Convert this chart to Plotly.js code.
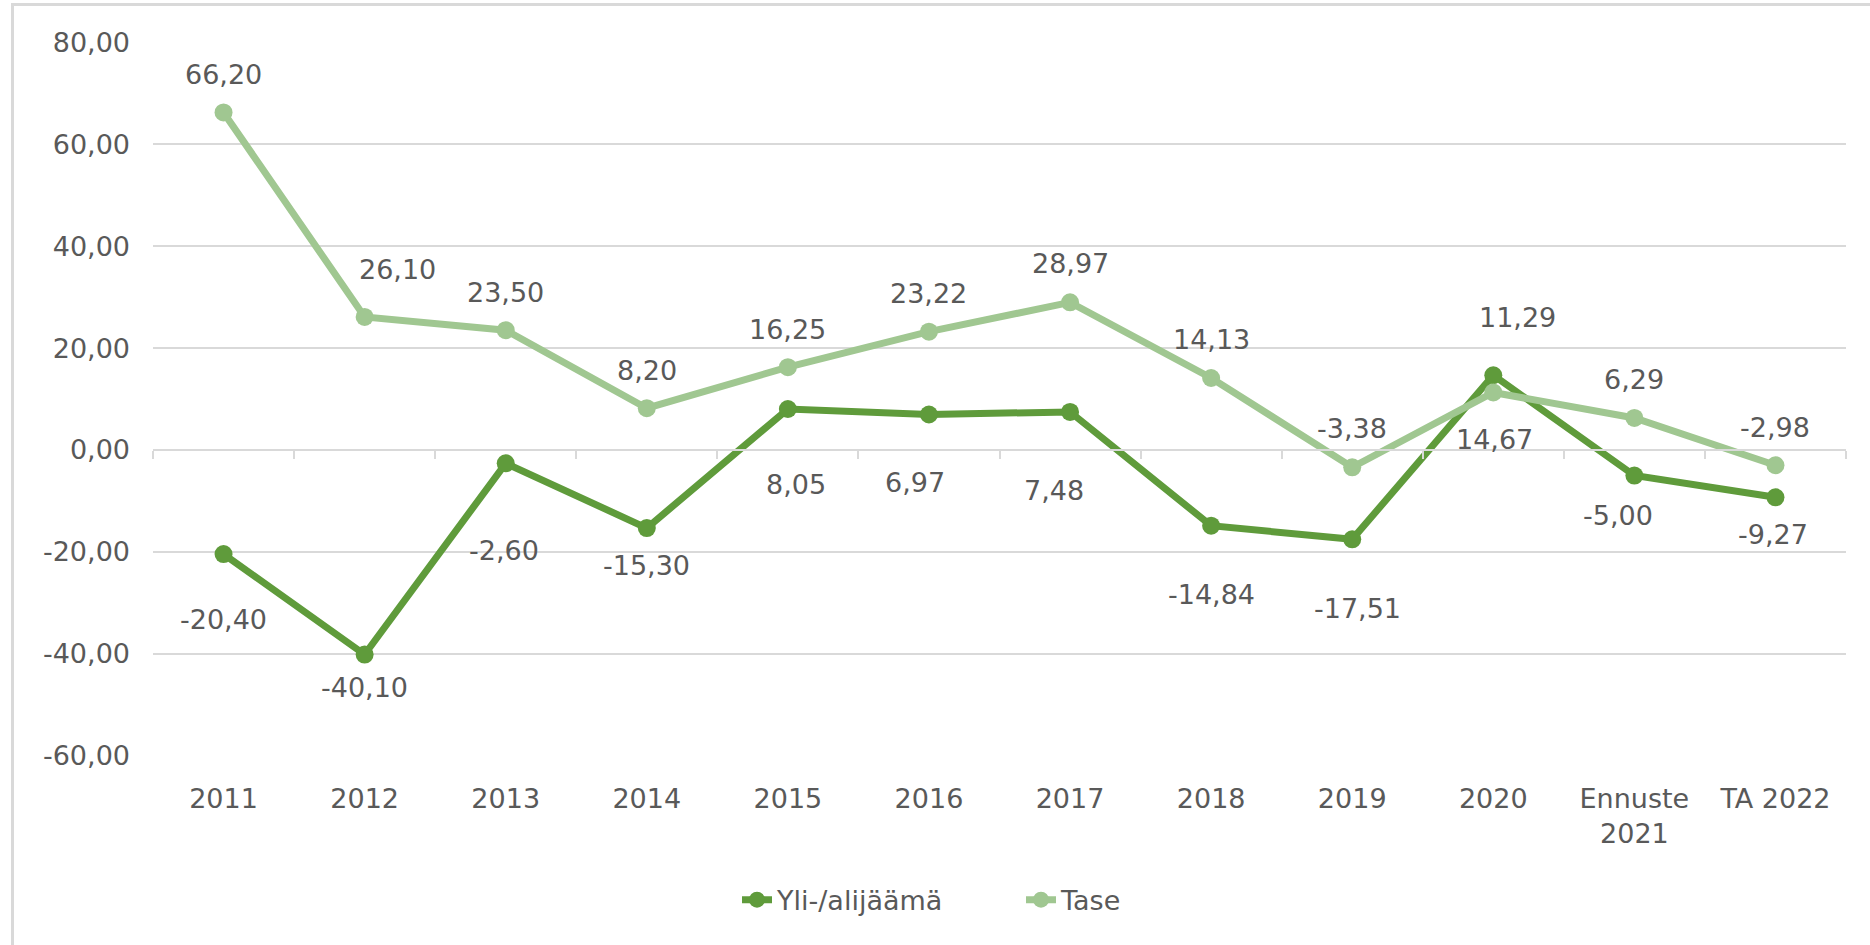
<!DOCTYPE html>
<html>
<head>
<meta charset="utf-8">
<script src="https://cdn.plot.ly/plotly-3.0.1.min.js"></script>
<style>
  html, body { margin: 0; padding: 0; background: #ffffff; overflow: hidden; }
  #frame { position: absolute; left: 11px; top: 3px; width: 1950px; height: 1050px;
           border: 3px solid #d9d9d9; box-sizing: border-box; }
  #chart { position: absolute; left: 0; top: 0; width: 1870px; height: 945px; }
</style>
</head>
<body>
<div id="frame"></div>
<div id="chart"></div>
<script>
// ---- data ----
const categories = ["2011", "2012", "2013", "2014", "2015", "2016", "2017", "2018", "2019", "2020", "Ennuste 2021", "TA 2022"];
const categoryLabels = ["2011", "2012", "2013", "2014", "2015", "2016", "2017", "2018", "2019", "2020", "Ennuste<br>2021", "TA 2022"];
const yliName = "Yli-/alijäämä";
const yliValues = [-20.40, -40.10, -2.60, -15.30, 8.05, 6.97, 7.48, -14.84, -17.51, 14.67, -5.00, -9.27];
const taseName = "Tase";
const taseValues = [66.20, 26.10, 23.50, 8.20, 16.25, 23.22, 28.97, 14.13, -3.38, 11.29, 6.29, -2.98];
const yTickValues = [-60, -40, -20, 0, 20, 40, 60, 80];

// ---- label placement (pixels, layout only) ----
const yliLabelDy = [-65, -33, -87, -37, -76, -68, -79, -69, -69, -64, -40, -37];
const yliLabelDx = [0, 0, -2, 0, 8, -14, -16, 0, 5, 1, -16, -2];
const taseLabelDy = [38, 47, 38, 38, 38, 38, 39, 38, 39, 75, 38, 38];
const taseLabelDx = [0, 33, 0, 0, 0, 0, 0, 0, 0, 24, 0, 0];

// ---- style ----
const darkGreen = "#5F9B3B";
const lightGreen = "#A0C791";
const textColor = "#595959";
const gridColor = "#D9D9D9";
const fontFamily = "DejaVu Sans, Verdana, sans-serif";
const fontSize = 27;

const fmt = v => v.toFixed(2).replace(".", ",");

const traces = [
  {
    type: "scatter", mode: "lines+markers", name: yliName,
    x: categories, y: yliValues, xaxis: "x", yaxis: "y",
    line: { color: darkGreen, width: 7 },
    marker: { color: darkGreen, size: 18 },
    hoverinfo: "skip", cliponaxis: false
  },
  {
    type: "scatter", mode: "lines+markers", name: taseName,
    x: categories, y: taseValues, xaxis: "x2", yaxis: "y",
    line: { color: lightGreen, width: 7 },
    marker: { color: lightGreen, size: 18 },
    hoverinfo: "skip", cliponaxis: false
  }
];

const annotations = [];
categories.forEach((c, i) => {
  // on a category axis, annotation x is given as the category index
  annotations.push({
    x: i, y: taseValues[i], xref: "x", yref: "y", text: fmt(taseValues[i]),
    showarrow: false, xshift: taseLabelDx[i], yshift: taseLabelDy[i],
    font: { family: fontFamily, size: fontSize, color: textColor }
  });
  annotations.push({
    x: i, y: yliValues[i], xref: "x", yref: "y", text: fmt(yliValues[i]),
    showarrow: false, xshift: yliLabelDx[i], yshift: yliLabelDy[i],
    font: { family: fontFamily, size: fontSize, color: textColor }
  });
});

const yMin = -60, yMax = 80;

const layout = {
  width: 1870, height: 945,
  margin: { l: 153, r: 24, t: 42, b: 189, pad: 0 },
  paper_bgcolor: "rgba(0,0,0,0)",
  plot_bgcolor: "rgba(0,0,0,0)",
  font: { family: fontFamily, size: fontSize, color: textColor },
  showlegend: true,
  legend: {
    orientation: "h", x: 0.5127, xanchor: "center", y: -0.2018, yanchor: "middle",
    entrywidth: 239,
    font: { family: fontFamily, size: fontSize, color: textColor },
    bgcolor: "rgba(0,0,0,0)"
  },
  xaxis: {
    type: "category", categoryorder: "array", categoryarray: categories,
    range: [-0.5, categories.length - 0.5],
    tickmode: "array", tickvals: categories, ticktext: categoryLabels,
    showgrid: false, zeroline: false, showline: false, ticks: "",
    ticklabelstandoff: 24,
    tickfont: { family: fontFamily, size: fontSize, color: textColor },
    fixedrange: true
  },
  xaxis2: {
    type: "category", categoryorder: "array", categoryarray: categories,
    range: [-0.5, categories.length - 0.5],
    overlaying: "x", anchor: "free", position: (0 - yMin) / (yMax - yMin), side: "bottom",
    showgrid: false, zeroline: false, showticklabels: false,
    showline: true, linecolor: gridColor, linewidth: 2,
    ticks: "outside", tickson: "boundaries", ticklen: 8, tickwidth: 2, tickcolor: gridColor,
    fixedrange: true
  },
  yaxis: {
    range: [yMin, yMax + 0.02],
    tickmode: "array", tickvals: yTickValues, ticktext: yTickValues.map(fmt),
    showgrid: true, gridcolor: gridColor, gridwidth: 2,
    zeroline: false, showline: false, ticks: "",
    ticklabelstandoff: 22,
    tickfont: { family: fontFamily, size: fontSize, color: textColor },
    fixedrange: true
  },
  annotations: annotations
};

Plotly.newPlot("chart", traces, layout, { displayModeBar: false, staticPlot: true });
</script>
</body>
</html>
